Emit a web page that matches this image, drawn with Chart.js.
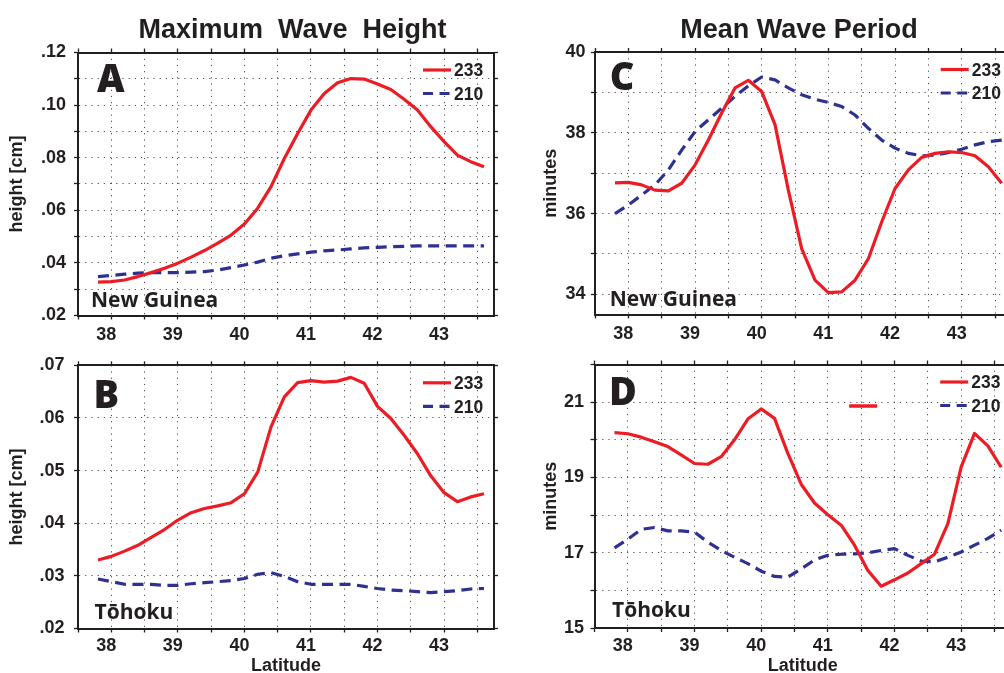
<!DOCTYPE html>
<html><head><meta charset="utf-8">
<script src="https://cdn.jsdelivr.net/npm/chart.js@4.4.1/dist/chart.umd.min.js"></script>
<style>
html,body{margin:0;padding:0;background:#fff;overflow:hidden;}
#wrap{position:relative;width:1004px;height:673px;overflow:hidden;background:#fff;}
canvas{position:absolute;}
</style></head><body><div id="wrap">
<canvas id="cA" width="510" height="345" style="left:0px;top:0px"></canvas>
<canvas id="cB" width="510" height="332" style="left:0px;top:345px"></canvas>
<canvas id="cC" width="540" height="345" style="left:510px;top:0px"></canvas>
<canvas id="cD" width="540" height="332" style="left:510px;top:345px"></canvas>
</div>
<script>
// ---------- data ----------
const latitude = [37.8,38.0,38.2,38.4,38.6,38.8,39.0,39.2,39.4,39.6,39.8,40.0,40.2,40.4,40.6,40.8,41.0,41.2,41.4,41.6,41.8,42.0,42.2,42.4,42.6,42.8,43.0,43.2,43.4,43.6];

const seriesNames = ['233', '210'];

// A: Maximum wave height, New Guinea
const heightNewGuinea233 = [.0327,.0329,.0335,.0348,.0363,.0380,.0399,.0422,.0447,.0475,.0506,.0548,.0608,.0690,.0797,.0892,.0981,.1044,.1085,.1101,.1099,.1080,.1059,.1022,.0981,.0918,.0861,.0810,.0785,.0766];
const heightNewGuinea210 = [.0348,.0352,.0357,.0361,.0363,.0363,.0363,.0365,.0367,.0373,.0382,.0392,.0403,.0418,.0427,.0434,.0441,.0446,.0449,.0453,.0457,.0459,.0462,.0463,.0465,.0465,.0465,.0465,.0465,.0465];

// B: Maximum wave height, Tohoku
const heightTohoku233 = [.0330,.0337,.0347,.0358,.0373,.0388,.0406,.0420,.0428,.0433,.0439,.0456,.0497,.0583,.0640,.0667,.0671,.0668,.0670,.0677,.0666,.0622,.0599,.0567,.0532,.0490,.0458,.0441,.0450,.0456];
const heightTohoku210 = [.0294,.0289,.0284,.0284,.0284,.0282,.0282,.0285,.0287,.0289,.0291,.0295,.0303,.0306,.0299,.0289,.0284,.0284,.0284,.0284,.0280,.0276,.0273,.0272,.0270,.0268,.0270,.0272,.0275,.0276];

// C: Mean wave period, New Guinea
const periodNewGuinea233 = [36.76,36.77,36.71,36.58,36.56,36.75,37.20,37.82,38.49,39.11,39.30,39.02,38.20,36.58,35.13,34.35,34.04,34.06,34.35,34.88,35.79,36.62,37.08,37.39,37.49,37.53,37.51,37.43,37.16,36.75];
const periodNewGuinea210 = [36.00,36.21,36.46,36.71,37.08,37.57,38.03,38.32,38.61,38.90,39.16,39.38,39.31,39.11,38.94,38.83,38.75,38.65,38.44,38.11,37.82,37.62,37.49,37.43,37.45,37.51,37.59,37.70,37.78,37.82];

// D: Mean wave period, Tohoku
const periodTohoku233 = [20.19,20.16,20.07,19.95,19.82,19.60,19.37,19.35,19.55,20.00,20.55,20.82,20.57,19.64,18.82,18.32,18.01,17.73,17.20,16.53,16.11,16.28,16.46,16.71,16.96,17.77,19.28,20.17,19.84,19.27];
const periodTohoku210 = [17.13,17.36,17.62,17.67,17.58,17.58,17.55,17.28,17.06,16.88,16.71,16.51,16.37,16.35,16.57,16.81,16.93,16.96,16.97,17.00,17.06,17.11,16.93,16.78,16.76,16.88,17.02,17.20,17.38,17.60];
// stray short red stroke visible in panel D
const strayLatitudeD = [41.32, 41.74];
const strayPeriodD = [20.9, 20.9];

// ticks
const latTicks = [37.5,38,38.5,39,39.5,40,40.5,41,41.5,42,42.5,43,43.5];
const latTickLabels = ['','38','','39','','40','','41','','42','','43',''];
const heightTicksA = [.02,.03,.04,.05,.06,.07,.08,.09,.10,.11,.12];
const heightLabelsA = ['.02','','.04','','.06','','.08','','.10','','.12'];
const heightTicksB = [.02,.03,.04,.05,.06,.07];
const heightLabelsB = ['.02','.03','.04','.05','.06','.07'];
const periodTicksC = [34,35,36,37,38,39,40];
const periodLabelsC = ['34','','36','','38','','40'];
const periodTicksD = [15,16,17,18,19,20,21,22];
const periodLabelsD = ['15','','17','','19','','21',''];

// ---------- styling ----------
const INK = '#231f20';
const RED = '#ed1c24';
const BLUE = '#2e3192';
const GRID = 'rgba(35,31,32,0.8)';
const HEL = '"Liberation Sans", Arial, sans-serif';
const MYR = '"Open Sans", "Noto Sans", sans-serif';

const panelDecor = {
  id: 'panelDecor',
  afterDatasetsDraw(chart, args, o) {
    const {ctx, chartArea: a} = chart;
    ctx.save();
    ctx.fillStyle = INK;
    ctx.textAlign = 'left';
    ctx.textBaseline = 'alphabetic';
    ctx.font = '800 38px ' + MYR;
    ctx.fillText(o.letter, a.left + o.letterDx, a.top + o.letterDy);
    ctx.font = '700 21px ' + MYR;
    ctx.fillText(o.region, a.left + o.regionDx, a.bottom - o.regionDy);
    // legend
    const items = chart.data.datasets.filter(d => d.inLegend);
    items.forEach((d, i) => {
      const y = a.top + 17.5 + i * 23.5;
      ctx.strokeStyle = d.borderColor;
      ctx.lineWidth = d.borderWidth;
      ctx.lineCap = 'butt';
      ctx.setLineDash(d.legendDash || []);
      ctx.beginPath();
      ctx.moveTo(a.right - 71, y);
      ctx.lineTo(a.right - 43, y);
      ctx.stroke();
      ctx.setLineDash([]);
      ctx.fillStyle = INK;
      ctx.font = 'bold 17.5px ' + HEL;
      ctx.textBaseline = 'middle';
      ctx.fillText(d.label, a.right - 40, y + 1.5);
    });
    if (o.title) {
      ctx.font = 'bold 27px ' + HEL;
      ctx.textAlign = 'center';
      ctx.textBaseline = 'alphabetic';
      ctx.fillStyle = INK;
      ctx.fillText(o.title, o.titleX, 38);
    }
    ctx.restore();
  }
};

function makePanel(p) {
  const canvas = document.getElementById(p.id);
  const W = canvas.width, H = canvas.height;
  const L = p.area[0] - p.offset[0], T = p.area[1] - p.offset[1];
  const R = p.area[2] - p.offset[0], B = p.area[3] - p.offset[1];
  const setTicks = vals => s => { s.ticks = vals.map(v => ({value: v})); };
  const tickFont = {family: HEL, size: 18, weight: 'bold'};
  const grid = {color: GRID, lineWidth: 1, tickLength: 4, tickWidth: 1.3, tickColor: INK, tickBorderDash: []};
  const border = {display: true, color: INK, width: 2, dash: [1.2, 5]};
  const datasets = [
    {label: seriesNames[0], inLegend: true, data: latitude.map((x, i) => ({x, y: p.s233[i]})),
     borderColor: RED, borderWidth: 3.2, borderDash: [], legendDash: []},
    {label: seriesNames[1], inLegend: true, data: latitude.map((x, i) => ({x, y: p.s210[i]})),
     borderColor: BLUE, borderWidth: 3.2, borderDash: [11, 6.5], legendDash: [10, 6.5]}
  ];
  if (p.stray) {
    datasets.push({label: '', inLegend: false, data: p.stray[0].map((x, i) => ({x, y: p.stray[1][i]})),
      borderColor: RED, borderWidth: 3.5, borderDash: []});
  }
  datasets.forEach(d => Object.assign(d, {pointRadius: 0, tension: 0, fill: false, borderCapStyle: 'butt', borderJoinStyle: 'round'}));

  return new Chart(canvas, {
    type: 'line',
    data: {datasets},
    plugins: [panelDecor],
    options: {
      responsive: false, animation: false, devicePixelRatio: 1,
      layout: {padding: 0, autoPadding: false},
      plugins: {legend: {display: false}, tooltip: {enabled: false},
        panelDecor: p.decor},
      scales: {
        x: {type: 'linear', position: 'bottom', min: 37.5, max: 43.75,
          afterBuildTicks: setTicks(latTicks), afterFit: s => { s.height = H - B; },
          ticks: {callback: (v, i) => latTickLabels[i], autoSkip: false, maxRotation: 0, minRotation: 0,
            padding: p.xPad, labelOffset: -5, color: INK, font: tickFont},
          grid, border,
          title: {display: p.xTitle, text: 'Latitude', color: INK, font: {family: HEL, size: 18, weight: 'bold'}, padding: {top: 0, bottom: 0.5}}
        },
        x2: {type: 'linear', position: 'top', min: 37.5, max: 43.75,
          afterBuildTicks: setTicks(latTicks), afterFit: s => { s.height = T; },
          ticks: {display: false},
          grid: Object.assign({}, grid, {drawOnChartArea: false}), border
        },
        y: {type: 'linear', position: 'left', min: p.yMin, max: p.yMax,
          afterBuildTicks: setTicks(p.yTicks), afterFit: s => { s.width = L; },
          ticks: {callback: (v, i) => p.yLabels[i], autoSkip: false, padding: p.yPad, color: INK, font: tickFont},
          grid, border,
          title: {display: true, text: p.yTitle, color: INK, font: {family: HEL, size: 18, weight: 'bold'}, padding: {top: p.yTitlePad, bottom: 0}}
        },
        y2: {type: 'linear', position: 'right', min: p.yMin, max: p.yMax,
          afterBuildTicks: setTicks(p.yTicks), afterFit: s => { s.width = W - R; },
          ticks: {display: false},
          grid: Object.assign({}, grid, {drawOnChartArea: false}), border
        }
      }
    }
  });
}

makePanel({id: 'cA', offset: [0, 0], area: [78, 52.5, 494, 315.5],
  s233: heightNewGuinea233, s210: heightNewGuinea210,
  yMin: .02, yMax: .12, yTicks: heightTicksA, yLabels: heightLabelsA, yTitle: 'height [cm]',
  yPad: 8, yTitlePad: 6.7, xPad: 4.7, xTitle: false,
  decor: {letter: 'A', letterDx: 19, letterDy: 39.5, region: 'New Guinea', regionDx: 13, regionDy: 8.8,
    title: 'Maximum  Wave  Height', titleX: 292.5}});

makePanel({id: 'cB', offset: [0, 345], area: [78, 365, 494, 628.5],
  s233: heightTohoku233, s210: heightTohoku210,
  yMin: .02, yMax: .07, yTicks: heightTicksB, yLabels: heightLabelsB, yTitle: 'height [cm]',
  yPad: 9.5, yTitlePad: 6.2, xPad: 3, xTitle: true,
  decor: {letter: 'B', letterDx: 15.6, letterDy: 43, region: 'Tōhoku', regionDx: 16.5, regionDy: 9.2}});

makePanel({id: 'cC', offset: [510, 0], area: [595, 52, 1011.7, 314.5],
  s233: periodNewGuinea233, s210: periodNewGuinea210,
  yMin: 33.5, yMax: 40, yTicks: periodTicksC, yLabels: periodLabelsC, yTitle: 'minutes',
  yPad: 5.5, yTitlePad: 30.7, xPad: 4.7, xTitle: false,
  decor: {letter: 'C', letterDx: 14.7, letterDy: 38, region: 'New Guinea', regionDx: 14.8, regionDy: 8.5,
    title: 'Mean Wave Period', titleX: 289}});

makePanel({id: 'cD', offset: [510, 345], area: [594.5, 364.5, 1011.2, 628],
  s233: periodTohoku233, s210: periodTohoku210, stray: [strayLatitudeD, strayPeriodD],
  yMin: 15, yMax: 22, yTicks: periodTicksD, yLabels: periodLabelsD, yTitle: 'minutes',
  yPad: 6.5, yTitlePad: 30.7, xPad: 3.7, xTitle: true,
  decor: {letter: 'D', letterDx: 14.6, letterDy: 40.5, region: 'Tōhoku', regionDx: 17.5, regionDy: 10.7}});
</script>
</body></html>
